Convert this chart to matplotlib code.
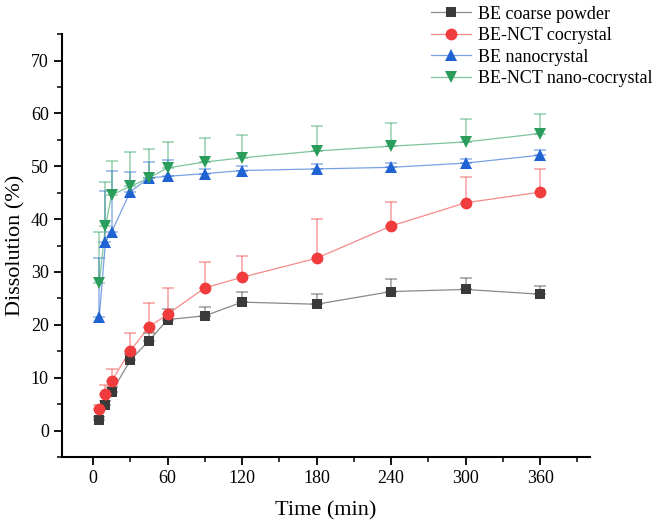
import numpy as np
import matplotlib.pyplot as plt
from matplotlib.ticker import MultipleLocator

# Sampling times (min)
time = [5, 10, 15, 30, 45, 60, 90, 120, 180, 240, 300, 360]

# Mean dissolution (%) and upper error (%)
coarse = [2.0, 4.8, 7.3, 13.3, 17.0, 21.0, 21.7, 24.3, 23.9, 26.3, 26.7, 25.8]
coarse_err = [0.6, 0.8, 1.0, 1.2, 1.4, 2.0, 1.7, 1.9, 1.9, 2.3, 2.2, 1.5]

cocrystal = [4.0, 6.9, 9.4, 15.1, 19.6, 22.0, 27.0, 29.0, 32.6, 38.7, 43.1, 45.1]
cocrystal_err = [0.8, 1.8, 2.2, 3.3, 4.5, 5.0, 4.9, 4.0, 7.5, 4.5, 4.8, 4.3]

nano = [21.5, 35.7, 37.6, 45.2, 47.8, 48.1, 48.6, 49.2, 49.5, 49.8, 50.6, 52.1]
nano_err = [11.2, 9.7, 11.6, 3.7, 3.0, 3.1, 0.8, 0.8, 1.0, 0.9, 0.8, 0.9]

nano_co = [27.9, 38.7, 44.6, 46.2, 47.8, 49.7, 50.8, 51.6, 52.9, 53.8, 54.6, 56.2]
nano_co_err = [9.6, 8.4, 6.4, 6.5, 5.5, 4.9, 4.6, 4.4, 4.8, 4.3, 4.3, 3.7]

labels = ["BE coarse powder", "BE-NCT cocrystal", "BE nanocrystal", "BE-NCT nano-cocrystal"]
colors = ["#3a3a3a", "#f03c3c", "#1f63d2", "#2a9d5c"]
markers = ["s", "o", "^", "v"]
msizes = [7.5, 8.5, 8.5, 8.5]

plt.rcParams["font.family"] = ["Liberation Serif", "DejaVu Serif"]

fig = plt.figure(figsize=(6.56, 5.25), dpi=100)
ax = fig.add_axes([0.0945, 0.1295, 0.8045, 0.8055])

series = [(coarse, coarse_err), (cocrystal, cocrystal_err),
          (nano, nano_err), (nano_co, nano_co_err)]

handles = []
for (vals, err), lab, c, m, ms in zip(series, labels, colors, markers, msizes):
    vals = np.array(vals)
    err = np.array(err)
    ax.errorbar(time, vals, yerr=[np.zeros_like(err), err], fmt="none",
                ecolor=c, alpha=0.45, elinewidth=1.2, capsize=4, capthick=1.2,
                zorder=2)
    line_h, = ax.plot(time, vals, color=c, lw=0.9, alpha=0.6, zorder=3)
    mark_h, = ax.plot(time, vals, ls="none", marker=m, ms=ms, color=c,
                      markeredgewidth=0, zorder=4)
    # legend: faint line with solid marker on top
    handles.append((line_h, mark_h))

ax.set_xlim(-25, 400)
ax.set_ylim(-5, 75)
ax.xaxis.set_minor_locator(MultipleLocator(30))
ax.yaxis.set_minor_locator(MultipleLocator(5))
ax.set_xticks(np.arange(0, 361, 60))
ax.set_yticks(np.arange(0, 71, 10))

ax.tick_params(which="major", direction="out", length=6, width=1.3, labelsize=13)
ax.tick_params(which="minor", direction="out", length=3.5, width=1.1)

ax.spines["top"].set_visible(False)
ax.spines["right"].set_visible(False)
ax.spines["left"].set_linewidth(1.5)
ax.spines["bottom"].set_linewidth(1.5)

ax.set_xlabel("Time (min)", fontsize=16, labelpad=10)
ax.set_ylabel("Dissolution (%)", fontsize=16, labelpad=4)

fig.legend(handles, labels, loc="upper left", bbox_to_anchor=(0.633, 1.02),
           frameon=False, fontsize=13, handlelength=2.2, handletextpad=0.35,
           labelspacing=0.25)

fig.savefig("out.png", dpi=100)
plt.close(fig)
